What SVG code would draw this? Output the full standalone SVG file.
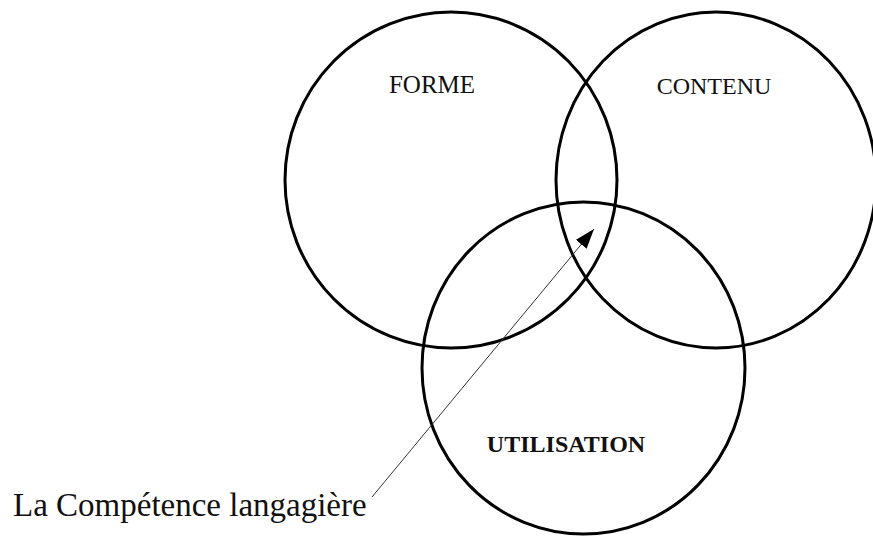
<svg xmlns="http://www.w3.org/2000/svg" width="873" height="540" viewBox="0 0 873 540">
  <style>
    .ring { fill: none; stroke: #000; stroke-width: 3; }
    .lbl { font-family: "Liberation Serif", "Times New Roman", serif; fill: #111; text-anchor: middle; }
    .ptr { stroke: #333; stroke-width: 1; fill: none; }
  </style>
  <defs>
    <marker id="tip" viewBox="0 0 20 14" refX="20" refY="7" markerWidth="20" markerHeight="14" markerUnits="userSpaceOnUse" orient="auto">
      <path d="M0,0 L20,7 L0,14 Z" fill="#000"/>
    </marker>
  </defs>
  <rect width="873" height="540" fill="#fff"/>

  <g id="forme">
    <ellipse class="ring" cx="451" cy="180" rx="166" ry="168"/>
    <text class="lbl" x="432" y="93" font-size="25">FORME</text>
  </g>

  <g id="contenu">
    <ellipse class="ring" cx="716" cy="180" rx="160" ry="168"/>
    <text class="lbl" x="714" y="94" font-size="24">CONTENU</text>
  </g>

  <g id="utilisation">
    <ellipse class="ring" cx="583.5" cy="368" rx="161.5" ry="166"/>
    <text class="lbl" x="566" y="452" font-size="24" font-weight="bold">UTILISATION</text>
  </g>

  <g id="competence">
    <text x="13" y="516" font-size="33" font-family="Liberation Serif, Times New Roman, serif" fill="#111">La Compétence langagière</text>
  </g>

  <g id="connectors">
    <line class="ptr" x1="372" y1="497" x2="594" y2="229" marker-end="url(#tip)"/>
  </g>
</svg>
